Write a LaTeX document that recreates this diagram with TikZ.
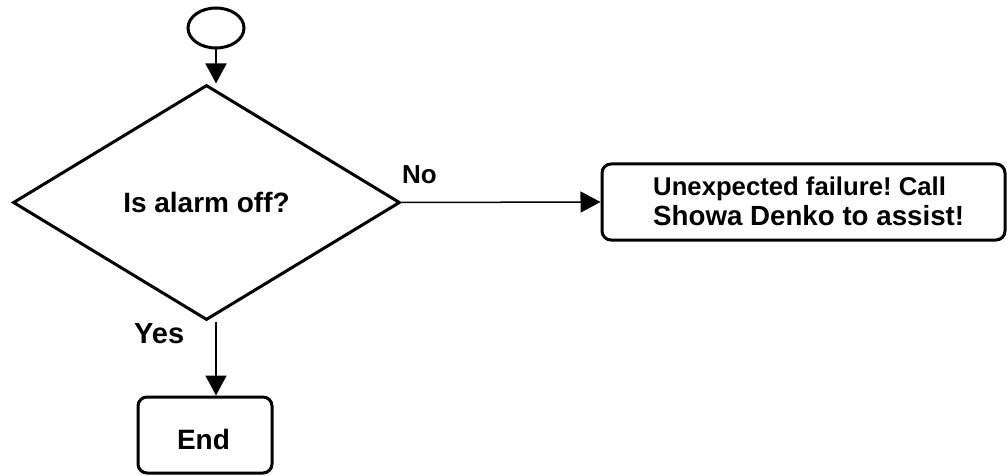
\documentclass[tikz,border=0pt]{standalone}
\usepackage{fontspec}
\setmainfont{Liberation Sans}
\usetikzlibrary{shapes.geometric,arrows.meta}
\frenchspacing

\newcommand{\fsz}[1]{\fontsize{#1}{30}\selectfont}

\begin{document}
\begin{tikzpicture}[x=1pt,y=-1pt,
  font=\bfseries\fsz{28},
  border/.style={draw=black,line width=3pt},
  terminal/.style={border,ellipse,minimum width=56pt,minimum height=40pt,inner sep=0pt},
  decision/.style={border,diamond,minimum width=387pt,minimum height=235pt,inner sep=0pt},
  stepbox/.style={border,rectangle,rounded corners=9pt,inner sep=0pt},
  flow/.style={line width=1.5pt,-{Triangle[length=20pt,width=21pt]}},
  branch/.style={anchor=base west,inner sep=0pt}]
\useasboundingbox (0,0) rectangle (1007,476);

% shapes
\node[terminal] (start) at (216,28) {};
\node[decision] (dia) at (206.5,202.5) {Is alarm off?};
\node[stepbox,minimum width=403pt,minimum height=76pt] (fail) at (803.5,202) {};
\node[anchor=base west,inner sep=0pt,font=\bfseries\fsz{25.7}] (failA) at (653,195)
  {Unexpected failure! Call};
\node[anchor=base west,inner sep=0pt,font=\bfseries\fsz{27.7}] (failB) at (653,225)
  {Showa Denko to assist!};
\node[stepbox,minimum width=134pt,minimum height=76pt] (endn) at (205,435) {};
\node[anchor=base,inner sep=0pt] (endtxt) at (203.5,449) {End};

% branch labels
\node[branch,font=\bfseries\fsz{26}] (no) at (402,183) {No};
\node[branch,font=\bfseries\fsz{29}] (yes) at (134,343) {Yes};

% connectors
\draw[flow] (start.south) -- (start.south |- dia.north);
\draw[flow] (dia.east) -- (fail.west);
\draw[flow] (start.center |- dia.south) -- (start.center |- endn.north);
\end{tikzpicture}
\end{document}
